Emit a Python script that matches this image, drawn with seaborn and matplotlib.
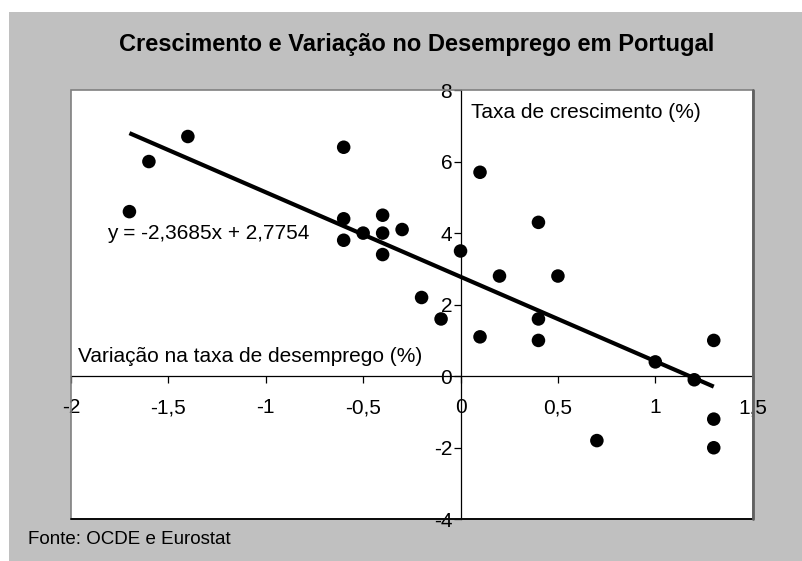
import numpy as np
import pandas as pd
import matplotlib
matplotlib.use("Agg")
import matplotlib.pyplot as plt
import seaborn as sns
from matplotlib.patches import Rectangle
from matplotlib.ticker import FuncFormatter

sns.set_theme(style="white")
plt.rcParams["font.family"] = ["Liberation Sans", "DejaVu Sans"]

# ── Data ─────────────────────────────────────────────────────────────────────
var_desemprego = [-1.7, -1.6, -1.4, -0.6, -0.6, -0.6, -0.5, -0.4, -0.4, -0.4,
                  -0.3, -0.2, -0.1, 0.0, 0.1, 0.4, 0.2, 0.5, 0.4, 0.1,
                  0.4, 1.0, 1.3, 1.2, 1.3, 1.3, 0.7]
taxa_crescimento = [4.6, 6.0, 6.7, 6.4, 4.4, 3.8, 4.0, 4.5, 4.0, 3.4,
                    4.1, 2.2, 1.6, 3.5, 5.7, 4.3, 2.8, 2.8, 1.6, 1.1,
                    1.0, 0.4, 1.0, -0.1, -1.2, -2.0, -1.8]
x_ticks = [-2, -1.5, -1, -0.5, 0, 0.5, 1, 1.5]
y_ticks = [-4, -2, 0, 2, 4, 6, 8]
equacao = "y = -2,3685x + 2,7754"

df = pd.DataFrame({"x": var_desemprego, "y": taxa_crescimento})

# linear trend over the data range
slope, intercept = np.polyfit(df["x"], df["y"], 1)
x_line = np.array([df["x"].min(), df["x"].max()])
y_line = slope * x_line + intercept

# ── Figure ───────────────────────────────────────────────────────────────────
W, H = 802, 561
fig = plt.figure(figsize=(W / 100, H / 100), dpi=100)
fig.patch.set_facecolor("white")
fig.patches.append(Rectangle((9 / W, 0), 1 - 9 / W, (H - 12) / H,
                             transform=fig.transFigure, facecolor="#C0C0C0",
                             edgecolor="none", zorder=-10))

ax = fig.add_axes([71 / W, (H - 519.3) / H, (752.7 - 71) / W, (519.3 - 90) / H])
ax.set_facecolor("white")

sns.scatterplot(data=df, x="x", y="y", ax=ax, color="black", s=95,
                edgecolor="none", zorder=3)
ax.plot(x_line, y_line, color="black", linewidth=3, zorder=4,
        solid_capstyle="butt")

ax.set_xlim(-2, 1.5)
ax.set_ylim(-4, 8)
ax.set_xticks(x_ticks)
ax.set_yticks(y_ticks)
fmt = FuncFormatter(lambda v, p: f"{v:g}".replace(".", ","))
ax.xaxis.set_major_formatter(fmt)
ax.yaxis.set_major_formatter(fmt)
ax.set_xlabel("")
ax.set_ylabel("")

# axes crossing at the origin, Excel style
for side in ["top", "right"]:
    ax.spines[side].set_visible(False)
for side in ["left", "bottom"]:
    ax.spines[side].set_position(("data", 0))
    ax.spines[side].set_color("black")
    ax.spines[side].set_linewidth(0.9)
ax.tick_params(axis="x", direction="out", length=5, width=0.9, pad=11,
               labelsize=15, colors="black", bottom=True)
ax.tick_params(axis="y", direction="out", length=5, width=0.9, pad=1,
               labelsize=15, colors="black", left=True)

# plot area frame: grey top/left, darker bottom/right edge
ax.add_patch(Rectangle((0, 0), 1, 1, transform=ax.transAxes, fill=False,
                       edgecolor="#808080", linewidth=1.2, clip_on=False,
                       zorder=5))
ax.plot([0, 1], [0, 0], transform=ax.transAxes, color="black", lw=1.3,
        clip_on=False, zorder=6)
ax.plot([1, 1], [0, 1], transform=ax.transAxes, color="#606060", lw=2,
        clip_on=False, zorder=6)

ax.text(0.054, 7.36, "Taxa de crescimento (%)", ha="left", va="center",
        fontsize=15, color="black")
ax.text(-1.962, 0.56, "Variação na taxa de desemprego (%)", ha="left",
        va="center", fontsize=15, color="black")
ax.text(-1.813, 4.0, equacao, ha="left", va="center", fontsize=15,
        color="black")

fig.text(417 / W, (H - 45) / H, "Crescimento e Variação no Desemprego em Portugal",
         ha="center", va="center", fontsize=17, fontweight="bold",
         color="black")
fig.text(28 / W, (H - 540) / H, "Fonte: OCDE e Eurostat", ha="left",
         va="center", fontsize=13.5, color="black")

fig.savefig("out.png", dpi=100)
plt.close(fig)
